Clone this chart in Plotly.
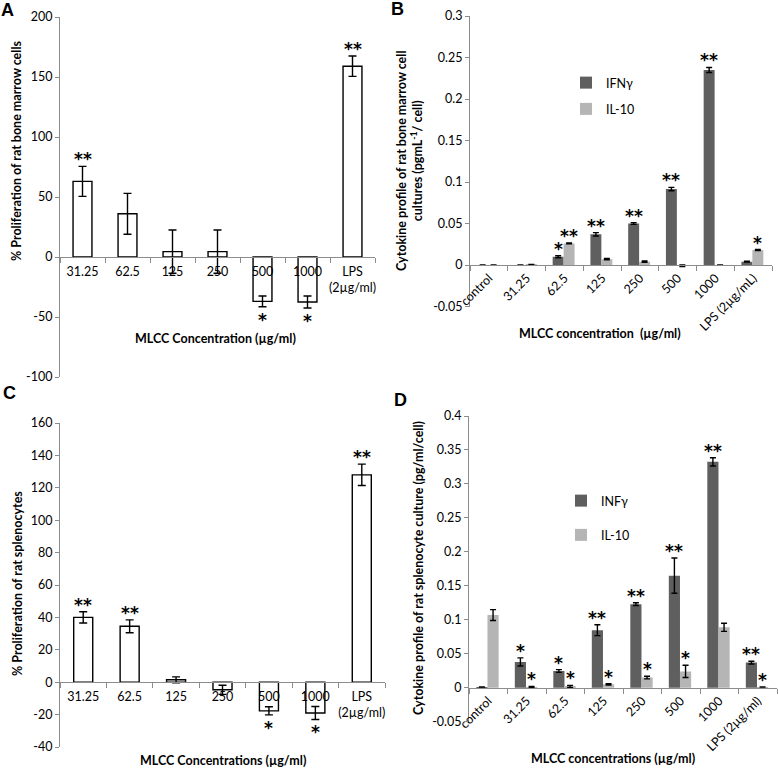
import plotly.graph_objects as go

W, H = 778, 770

# ---------------- Panel A : proliferation of rat bone marrow cells ----------------
a_cats = ["31.25", "62.5", "125", "250", "500", "1000", "LPS<br>(2µg/ml)"]
a_vals = [63, 36, 4.5, 4.5, -37, -37.5, 159]
a_errs = [12.5, 17, 18, 18, 4.5, 5, 8.5]
a_sig = ["**", "", "", "", "*", "*", "**"]
a_yticks = [200, 150, 100, 50, 0, -50, -100]

# ---------------- Panel B : cytokines, bone marrow ----------------
b_cats = ["control", "31.25", "62.5", "125", "250", "500", "1000", "LPS (2µg/mL)"]
b_ifn = [0, 0, 0.010, 0.037, 0.050, 0.0915, 0.235, 0.004]
b_ifn_err = [0, 0, 0.0012, 0.002, 0.001, 0.002, 0.003, 0.0005]
b_il10 = [0, 0.0006, 0.026, 0.007, 0.004, -0.001, 0, 0.018]
b_il10_err = [0, 0, 0.0006, 0.0008, 0.0008, 0.001, 0, 0.0006]
b_ifn_sig = ["", "", "*", "**", "**", "**", "**", ""]
b_il10_sig = ["", "", "**", "", "", "", "", "*"]
b_yticks = [0.3, 0.25, 0.2, 0.15, 0.1, 0.05, 0, -0.05]
b_yticktext = ["0.3", "0.25", "0.2", "0.15", "0.1", "0.05", "0", "-0.05"]

# ---------------- Panel C : proliferation of rat splenocytes ----------------
c_cats = ["31.25", "62.5", "125", "250", "500", "1000", "LPS<br>(2µg/ml)"]
c_vals = [40, 34.5, 1.5, -4.7, -17.7, -19, 128]
c_errs = [3.5, 4, 1.8, 2.8, 2.5, 4, 6.6]
c_sig = ["**", "**", "", "", "*", "*", "**"]
c_yticks = [160, 140, 120, 100, 80, 60, 40, 20, 0, -20, -40]

# ---------------- Panel D : cytokines, splenocytes ----------------
d_cats = ["control", "31.25", "62.5", "125", "250", "500", "1000", "LPS (2µg/ml)"]
d_inf = [0.001, 0.038, 0.0246, 0.0847, 0.123, 0.165, 0.3325, 0.037]
d_inf_err = [0, 0.006, 0.002, 0.008, 0.002, 0.026, 0.006, 0.002]
d_il10 = [0.107, 0.001, 0.002, 0.005, 0.015, 0.024, 0.089, 0.001]
d_il10_err = [0.008, 0.001, 0.0015, 0.001, 0.002, 0.009, 0.006, 0]
d_inf_sig = ["", "*", "*", "**", "**", "**", "**", "**"]
d_il10_sig = ["", "*", "*", "*", "*", "*", "", "*"]
d_yticks = [0.4, 0.35, 0.3, 0.25, 0.2, 0.15, 0.1, 0.05, 0, -0.05]
d_yticktext = ["0.4", "0.35", "0.3", "0.25", "0.2", "0.15", "0.1", "0.05", "0", "-0.05"]

DARK = "#5f5f5f"
LIGHT = "#b5b5b5"
AXIS = "#8c8c8c"
FONT = "Lato"

# plot areas in pixels: (left, right, top, bottom)
boxes = {
    "A": (60, 375, 17, 377),
    "B": (470, 772, 16, 306.5),
    "C": (60, 385, 423, 747),
    "D": (469, 777, 416, 721.7),
}
ranges = {"A": [-100, 200], "B": [-0.05, 0.3], "C": [-40, 160], "D": [-0.05, 0.4]}
suffix = {"A": "", "B": "2", "C": "3", "D": "4"}

fig = go.Figure()

err_style = dict(type="data", color="black", thickness=1.4)

# Panel A bars
fig.add_trace(go.Bar(x=a_cats, y=a_vals, width=0.42,
                     error_y=dict(array=a_errs, width=4, **err_style),
                     marker=dict(color="white", line=dict(color="black", width=1.4)),
                     xaxis="x", yaxis="y", showlegend=False))
# Panel C bars
fig.add_trace(go.Bar(x=c_cats, y=c_vals, width=0.41,
                     error_y=dict(array=c_errs, width=4, **err_style),
                     marker=dict(color="white", line=dict(color="black", width=1.4)),
                     xaxis="x3", yaxis="y3", showlegend=False))
# Panel B bars
fig.add_trace(go.Bar(x=b_cats, y=b_ifn, width=0.29, offset=-0.31, name="IFNγ",
                     error_y=dict(array=b_ifn_err, width=3, **err_style),
                     marker=dict(color=DARK, line=dict(width=0)),
                     xaxis="x2", yaxis="y2", legend="legend", legendgroup="b1"))
fig.add_trace(go.Bar(x=b_cats, y=b_il10, width=0.29, offset=-0.02, name="IL-10",
                     error_y=dict(array=b_il10_err, width=3, **err_style),
                     marker=dict(color=LIGHT, line=dict(width=0)),
                     xaxis="x2", yaxis="y2", legend="legend", legendgroup="b2"))
# Panel D bars
fig.add_trace(go.Bar(x=d_cats, y=d_inf, width=0.29, offset=-0.31, name="INFγ",
                     error_y=dict(array=d_inf_err, width=3, **err_style),
                     marker=dict(color=DARK, line=dict(width=0)),
                     xaxis="x4", yaxis="y4", legend="legend2", legendgroup="d1"))
fig.add_trace(go.Bar(x=d_cats, y=d_il10, width=0.29, offset=-0.02, name="IL-10",
                     error_y=dict(array=d_il10_err, width=3, **err_style),
                     marker=dict(color=LIGHT, line=dict(width=0)),
                     xaxis="x4", yaxis="y4", legend="legend2", legendgroup="d2"))

layout = dict(template="none", width=W, height=H,
              margin=dict(l=0, r=0, t=0, b=0, autoexpand=False),
              paper_bgcolor="white", plot_bgcolor="rgba(0,0,0,0)",
              barmode="overlay", font=dict(family=FONT, size=12, color="black"))

ytick_info = {
    "A": (a_yticks, [str(v) for v in a_yticks]),
    "B": (b_yticks, b_yticktext),
    "C": (c_yticks, [str(v) for v in c_yticks]),
    "D": (d_yticks, d_yticktext),
}
for p, (l, r, t, b) in boxes.items():
    s = suffix[p]
    ydom = [1 - b / H, 1 - t / H]
    lo, hi = ranges[p]
    zero_pos = ydom[0] + (0 - lo) / (hi - lo) * (ydom[1] - ydom[0])
    rotated = p in ("B", "D")
    layout["xaxis" + s] = dict(domain=[l / W, r / W], anchor="free", position=zero_pos,
                               type="category", tickson="boundaries", ticks="outside",
                               ticklen=5, tickcolor=AXIS, showline=True, linecolor=AXIS,
                               linewidth=1, showgrid=False, zeroline=False,
                               automargin=False,
                               ticklabelstandoff=0 if rotated else 3,
                               tickangle=-45 if rotated else 0,
                               tickfont=dict(size=12.5, family=FONT, color="black"))
    tv, tt = ytick_info[p]
    layout["yaxis" + s] = dict(domain=ydom, range=[lo, hi], anchor="x" + s,
                               tickvals=tv, ticktext=tt, ticks="outside", ticklen=4,
                               tickcolor=AXIS, showline=True, linecolor=AXIS, linewidth=1,
                               showgrid=False, zeroline=False, automargin=False,
                               tickfont=dict(size=12.5, family=FONT, color="black"))

layout["legend"] = dict(x=566 / W, y=1 - 68 / H, xanchor="left", yanchor="top",
                        traceorder="grouped", tracegroupgap=7,
                        font=dict(size=12.5, family=FONT, color="black"),
                        bgcolor="rgba(0,0,0,0)")
layout["legend2"] = dict(x=561 / W, y=1 - 486 / H, xanchor="left", yanchor="top",
                         traceorder="grouped", tracegroupgap=15,
                         font=dict(size=12.5, family=FONT, color="black"),
                         bgcolor="rgba(0,0,0,0)")

annotations = []
star_font = dict(family="DejaVu Sans", size=17, color="black")


def add_stars(xref, yref, cats, vals, errs, sigs, dx):
    for i, (v, e, sgn) in enumerate(zip(vals, errs, sigs)):
        if not sgn:
            continue
        txt = "<b>" + sgn + "</b>"
        if v >= 0:
            annotations.append(dict(x=i + dx, y=v + e, xref=xref, yref=yref, text=txt,
                                    showarrow=False, yanchor="bottom", yshift=-5,
                                    font=star_font))
        else:
            annotations.append(dict(x=i + dx, y=v - e, xref=xref, yref=yref, text=txt,
                                    showarrow=False, yanchor="top", yshift=-1,
                                    font=star_font))


add_stars("x", "y", a_cats, a_vals, a_errs, a_sig, 0)
add_stars("x3", "y3", c_cats, c_vals, c_errs, c_sig, 0)
add_stars("x2", "y2", b_cats, b_ifn, b_ifn_err, b_ifn_sig, -0.165)
add_stars("x2", "y2", b_cats, b_il10, b_il10_err, b_il10_sig, 0.125)
add_stars("x4", "y4", d_cats, d_inf, d_inf_err, d_inf_sig, -0.165)
add_stars("x4", "y4", d_cats, d_il10, d_il10_err, d_il10_sig, 0.125)

bold = dict(family=FONT, size=12.5, color="black")
titles = [
    ("<b>MLCC Concentration (µg/ml)</b>", 215, 338, 0),
    ("<b>MLCC concentration  (µg/ml)</b>", 600, 333, 0),
    ("<b>MLCC Concentrations (µg/ml)</b>", 223, 760, 0),
    ("<b>MLCC concentrations (µg/ml)</b>", 613, 758, 0),
    ("<b>% Proliferation of rat bone marrow cells</b>", 16, 151, -90),
    ("<b>Cytokine profile of rat bone marrow cell</b><br><b>cultures (pgmL<sup>-1</sup>/ cell)</b>", 409, 161, -90),
    ("<b>% Proliferation of rat splenocytes</b>", 17, 584, -90),
    ("<b>Cytokine profile of rat splenocyte culture (pg/ml/cell)</b>", 418, 568, -90),
]
for txt, x, y, ang in titles:
    annotations.append(dict(x=x / W, y=1 - y / H, xref="paper", yref="paper", text=txt,
                            showarrow=False, xanchor="center", yanchor="middle",
                            textangle=ang, font=bold))

letters = [("A", 7, 10), ("B", 398, 9), ("C", 9, 393), ("D", 400, 400)]
for txt, x, y in letters:
    annotations.append(dict(x=x / W, y=1 - y / H, xref="paper", yref="paper",
                            text="<b>" + txt + "</b>", showarrow=False,
                            xanchor="center", yanchor="middle",
                            font=dict(family="Liberation Sans", size=18, color="black")))

layout["annotations"] = annotations
fig.update_layout(**layout)
fig.write_html("out.html", config={"displayModeBar": False},
               post_script="document.body.style.margin='0px';document.body.style.overflow='hidden';")
